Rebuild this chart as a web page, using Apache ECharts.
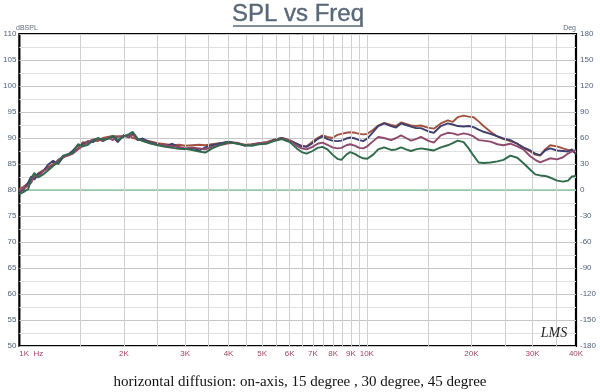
<!DOCTYPE html>
<html><head><meta charset="utf-8">
<script src="https://cdn.jsdelivr.net/npm/echarts@6/dist/echarts.min.js"></script>
<style>html,body{margin:0;padding:0;background:#fff}#c{width:600px;height:392px}</style>
</head><body><div id="c"></div>
<script>
// Frequencies (Hz) at which the curves were read
const freqs = [1000,1027,1061,1082,1104,1133,1171,1211,1251,1293,
1336,1381,1427,1475,1524,1576,1628,1683,1739,1797,
1858,1920,2000,2064,2119,2190,2263,2370,2500,2633,
2758,2888,3000,3145,3294,3427,3589,3758,4000,4232,
4461,4671,4891,5156,5399,5691,6000,6283,6494,6710,
6981,7215,7457,7704,7963,8229,8449,8732,8965,9265,
9514,9768,10029,10433,10783,11217,11746,12140,12547,12967,
13401,13850,14313,14990,15594,16329,17099,17672,18264,18999,
19635,20293,20972,21675,22697,23768,24726,25893,27113,28206,
29537,30526,31549,32606,33697,35287,36710,37939,38952,40000];

// SPL (dB) per curve
const onAxis = [80.2,80.6,81.3,81.8,82.4,83.2,83.8,84.4,85.0,85.6,
86.2,86.8,87.3,88.0,89.2,89.0,89.6,89.4,90.0,90.2,
90.4,90.3,90.2,90.6,90.0,89.8,89.6,89.4,89.0,88.8,
88.6,88.7,88.5,88.6,88.7,88.6,88.8,89.0,89.2,89.0,
88.7,88.8,89.0,89.2,89.7,90.0,89.6,88.9,88.5,88.4,
89.3,90.0,90.5,90.2,90.0,90.6,90.8,91.0,91.1,91.0,
90.8,90.7,90.8,91.6,92.4,92.9,92.5,92.3,93.0,92.7,
92.4,92.3,92.4,92.0,91.8,92.8,93.4,93.1,94.0,94.3,
94.1,94.0,93.2,92.3,91.2,90.3,89.8,89.4,88.9,88.1,
87.4,86.8,86.6,87.8,88.6,88.4,88.0,87.7,87.6,87.0];
const deg15 = [79.6,80.0,81.5,82.6,82.0,83.0,83.6,84.9,85.6,85.0,
86.3,86.8,87.6,88.6,88.8,89.4,89.2,89.9,89.4,89.9,
90.2,89.2,90.6,90.1,90.9,89.6,89.9,89.2,88.8,88.4,
88.9,88.0,87.8,88.1,87.6,88.2,88.6,88.9,89.3,89.0,
88.5,88.7,88.9,89.1,89.6,90.0,89.5,88.9,88.4,88.3,
89.0,89.8,90.3,89.8,89.5,89.4,89.5,89.9,90.1,89.9,
89.6,89.4,89.9,91.2,92.3,92.8,92.3,92.0,92.8,92.5,
92.2,91.9,91.9,91.3,91.0,92.3,92.8,92.6,92.3,92.2,
92.3,92.1,91.6,91.2,90.8,90.3,89.9,89.6,88.9,88.2,
87.6,87.0,86.7,87.6,88.0,87.6,87.5,87.4,87.8,86.9];
const deg30 = [79.8,80.3,80.8,81.4,82.8,82.5,83.6,84.2,84.8,85.8,
86.4,86.6,87.0,87.8,88.5,89.3,89.7,89.8,89.5,90.1,
89.6,90.3,90.4,90.2,90.6,89.8,89.5,89.0,88.7,88.5,
88.4,88.3,88.0,88.2,88.0,87.8,88.3,88.6,89.0,89.1,
88.6,88.7,89.0,89.2,89.5,89.9,89.5,88.5,88.0,87.8,
88.3,88.9,89.1,88.7,88.2,88.0,88.1,88.6,88.8,88.5,
88.1,88.0,88.4,89.4,90.2,90.0,89.6,90.0,90.5,90.0,
89.5,89.8,90.2,89.5,89.1,90.5,91.0,90.9,90.6,90.9,
90.7,90.3,89.6,89.5,89.3,88.8,88.6,88.9,88.4,87.8,
86.5,85.8,85.3,85.7,86.1,85.9,86.3,87.0,87.4,87.7];
const deg45 = [79.2,79.6,80.2,82.2,83.3,82.4,83.0,83.8,84.6,85.4,
86.6,86.9,87.2,88.8,88.4,88.7,89.5,90.0,89.7,89.8,
90.4,89.6,90.3,90.7,91.2,89.9,89.4,89.0,88.6,88.3,
88.1,87.9,87.9,87.7,87.4,87.2,88.0,88.6,89.2,88.9,
88.6,88.5,88.8,88.9,89.4,89.8,89.2,88.0,87.3,87.0,
87.5,88.1,88.3,87.8,86.8,86.0,85.8,86.8,87.3,86.9,
86.4,86.1,86.0,86.8,87.8,88.2,87.7,87.8,88.2,87.8,
87.5,87.8,88.0,87.8,87.6,88.2,88.6,89.0,89.5,89.2,
88.0,86.6,85.3,85.2,85.3,85.5,85.8,86.6,86.2,85.2,
83.9,83.0,82.8,82.7,82.4,81.8,81.6,81.8,82.6,82.7];

// Phase trace (deg)
const phaseFreqs = [1000, 40000];
const phaseDeg = [0, 0];

// Axis ticks
const xLabelFreqs = [1000,2000,3000,4000,5000,6000,7000,8000,9000,10000,20000,30000,40000];
const xGridFreqs = [1500,2000,2500,3000,3500,4000,4500,5000,5500,6000,6500,7000,7500,8000,8500,9000,9500,10000,15000,20000,25000,30000,35000];

const curveNames = ['on-axis','15 degree','30 degree','45 degree'];
const curveValues = [onAxis, deg15, deg30, deg45];
const curveColors = ['#a0523f','#3e3f6e','#8e4a6c','#2f6a4a'];

const chart = echarts.init(document.getElementById('c'), null, {renderer:'canvas'});
const series = [{
  name: 'phase', type: 'line', yAxisIndex: 1, symbol: 'none', z: 1,
  data: phaseFreqs.map((f, i) => [f, phaseDeg[i]]),
  lineStyle: {color: '#8fc7a3', width: 1.5},
  markLine: {
    silent: true, symbol: 'none', animation: false,
    label: {show: false},
    lineStyle: {color: '#cfcfcf', width: 1, type: 'solid'},
    data: xGridFreqs.map(f => ({xAxis: f}))
  }
}];
curveValues.forEach((vals, k) => {
  series.push({
    name: curveNames[k], type: 'line', symbol: 'none', z: 3 + k,
    data: freqs.map((f, i) => [f, vals[i]]),
    lineStyle: {color: curveColors[k], width: 1.9},
    itemStyle: {color: curveColors[k]}
  });
});

chart.setOption({
  animation: false,
  backgroundColor: '#fff',
  grid: {left: 16, right: 24, top: 34, bottom: 46, show: true, borderColor: '#000', borderWidth: 2.2, backgroundColor: 'transparent'},
  xAxis: {
    type: 'log', logBase: 10, min: 1000, max: 40000,
    axisLine: {show: false}, axisTick: {show: false}, splitLine: {show: false},
    axisLabel: {
      customValues: xLabelFreqs,
      formatter: v => (Math.round(v) === 1000 ? '1K  Hz' : Math.round(v / 1000) + 'K'),
      color: '#a3445f', fontSize: 8, margin: 4, fontFamily: 'Liberation Sans',
      alignMinLabel: 'left'
    }
  },
  yAxis: [{
    type: 'value', min: 50, max: 110, interval: 5, position: 'left',
    axisLine: {show: false}, axisTick: {show: false},
    axisLabel: {color: '#4f5f7c', fontSize: 8, margin: 3, fontFamily: 'Liberation Sans'},
    splitLine: {show: true, lineStyle: {color: '#c6c6c6', width: 1}},
    minorTick: {show: false, splitNumber: 2},
    minorSplitLine: {show: true, lineStyle: {color: '#e0e0e0', width: 1}}
  }, {
    type: 'value', min: -180, max: 180, interval: 30, position: 'right',
    axisLine: {show: false}, axisTick: {show: false}, splitLine: {show: false},
    axisLabel: {color: '#4f5f7c', fontSize: 8, margin: 4, fontFamily: 'Liberation Sans'}
  }],
  series: series,
  graphic: [
    {type: 'text', x: 298, y: 14, style: {text: 'SPL vs Freq', font: '24px "Liberation Sans"', fill: '#596878', stroke: '#596878', lineWidth: 0.4, align: 'center', verticalAlign: 'middle'}},
    {type: 'line', shape: {x1: 233, y1: 26, x2: 363, y2: 26}, style: {stroke: '#596878', lineWidth: 1.5}},
    {type: 'text', x: 16, y: 28, style: {text: 'dBSPL', font: '7px "Liberation Sans"', fill: '#5f6e7e', align: 'left', verticalAlign: 'middle'}},
    {type: 'text', x: 576, y: 28, style: {text: 'Deg', font: '7px "Liberation Sans"', fill: '#5f6e7e', align: 'right', verticalAlign: 'middle'}},
    {type: 'text', x: 300, y: 382, style: {text: 'horizontal diffusion: on-axis, 15 degree , 30 degree, 45 degree', font: '15px "Liberation Serif"', fill: '#111', align: 'center', verticalAlign: 'middle'}},
    {type: 'text', x: 554, y: 333, z: 10, style: {text: 'LMS', font: 'italic 14px "Liberation Serif"', fill: '#222', align: 'center', verticalAlign: 'middle'}}
  ]
});
</script>
</body></html>
